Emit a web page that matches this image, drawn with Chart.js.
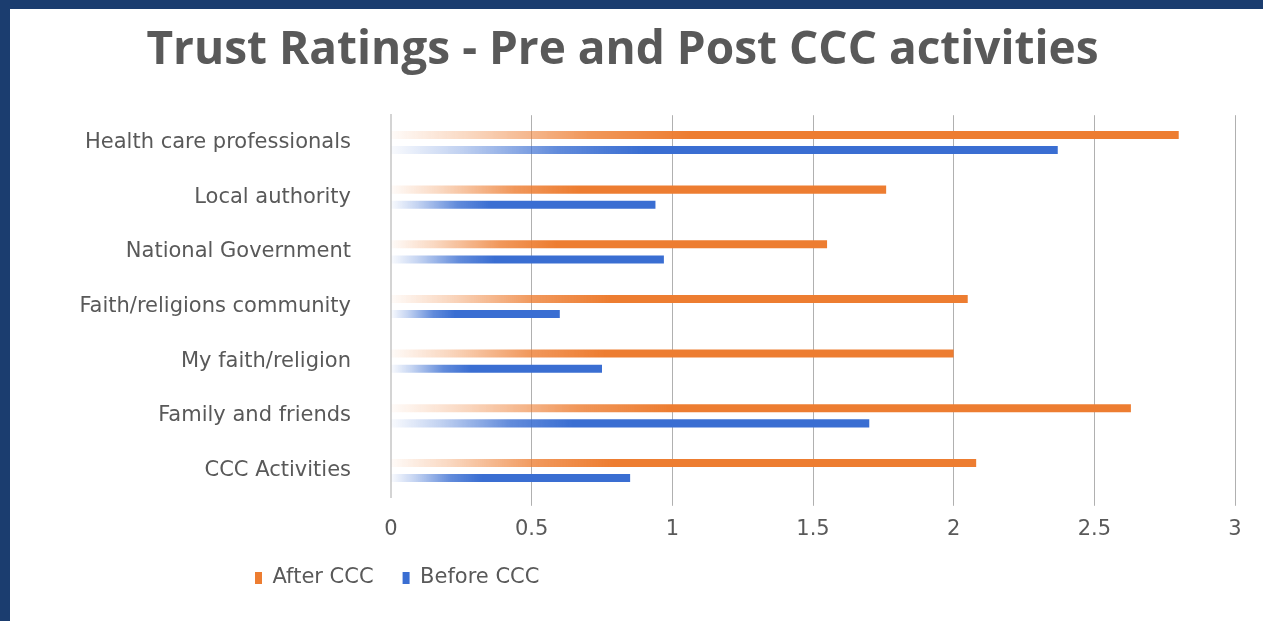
<!DOCTYPE html>
<html>
<head>
<meta charset="utf-8">
<script src="https://cdn.jsdelivr.net/npm/chart.js@4.4.1/dist/chart.umd.min.js"></script>
<style>
  html, body { margin: 0; padding: 0; background: #1b3d6f; width: 1263px; height: 621px; overflow: hidden; }
  #wrap { position: absolute; left: 10px; top: 9px; width: 1253px; height: 612px; background: #ffffff; }
  canvas { display: block; }
</style>
</head>
<body>
<div id="wrap"><canvas id="c" width="1253" height="612"></canvas></div>
<script>
const categories = [
  "Health care professionals",
  "Local authority",
  "National Government",
  "Faith/religions community",
  "My faith/religion",
  "Family and friends",
  "CCC Activities"
];
const afterCCC  = [2.80, 1.76, 1.55, 2.05, 2.00, 2.63, 2.08];
const beforeCCC = [2.37, 0.94, 0.97, 0.60, 0.75, 1.70, 0.85];
const xTicks = [0, 0.5, 1, 1.5, 2, 2.5, 3];
const seriesNames = ["After CCC", "Before CCC"];

const ORANGE = [237, 125, 49];
const BLUE = [58, 110, 210];
const rgba = (c, a) => `rgba(${c[0]},${c[1]},${c[2]},${a})`;

function barFill(base) {
  return (ctx) => {
    const chart = ctx.chart;
    if (!chart.chartArea || ctx.type !== 'data' || !chart.scales.x) return rgba(base, 1);
    const xs = chart.scales.x;
    const x0 = xs.getPixelForValue(0);
    const x1 = xs.getPixelForValue(ctx.raw);
    if (!isFinite(x0) || !isFinite(x1) || x1 <= x0) return rgba(base, 1);
    const g = chart.ctx.createLinearGradient(x0, 0, x1, 0);
    g.addColorStop(0, rgba(base, 0.03));
    g.addColorStop(0.1, rgba(base, 0.3));
    g.addColorStop(0.25, rgba(base, 0.8));
    g.addColorStop(0.38, rgba(base, 1));
    g.addColorStop(1, rgba(base, 1));
    return g;
  };
}

const LEGEND_X = 245;   // canvas px of first legend box
const LEGEND_CY = 569;  // canvas px of legend row centre
const legendShift = {
  id: 'legendShift',
  beforeDraw(chart) {
    const lg = chart.legend;
    if (!lg) return;
    const pad = lg.options.labels.padding;
    const size = lg.options.labels.font.size;
    const itemH = Math.max(size, lg.options.labels.boxHeight);
    lg.left = LEGEND_X - pad;
    lg.top = LEGEND_CY - pad - itemH / 2;
  }
};

const TEXT = '#595959';
const TITLE_FONT = "'Open Sans', 'DejaVu Sans', sans-serif";
const FONT = "'DejaVu Sans', 'Open Sans', sans-serif";

new Chart(document.getElementById('c'), {
  type: 'bar',
  data: {
    labels: categories,
    datasets: [
      { label: seriesNames[0], data: afterCCC, backgroundColor: barFill(ORANGE), solid: rgba(ORANGE,1),
        categoryPercentage: 0.553, barPercentage: 0.53 },
      { label: seriesNames[1], data: beforeCCC, backgroundColor: barFill(BLUE), solid: rgba(BLUE,1),
        categoryPercentage: 0.553, barPercentage: 0.53 }
    ]
  },
  options: {
    indexAxis: 'y',
    responsive: false,
    animation: false,
    devicePixelRatio: 1,
    layout: { padding: { left: 0, right: 28, top: 0, bottom: 8 } },
    plugins: {
      title: {
        display: true,
        text: 'Trust Ratings - Pre and Post CCC activities',
        color: TEXT,
        font: { family: TITLE_FONT, size: 46, weight: 'bold' },
        padding: { top: 14, bottom: 37 }
      },
      legend: {
        display: true,
        position: 'bottom',
        align: 'start',
        labels: {
          color: TEXT,
          font: { family: FONT, size: 21 },
          boxWidth: 7,
          boxHeight: 12,
          padding: 29,
          generateLabels(chart) {
            const items = Chart.defaults.plugins.legend.labels.generateLabels(chart);
            items.forEach((it, i) => {
              it.fillStyle = chart.data.datasets[i].solid;
              it.strokeStyle = 'rgba(0,0,0,0)';
              it.lineWidth = 0;
            });
            return items;
          }
        }
      },
      tooltip: { enabled: false }
    },
    scales: {
      x: {
        min: 0, max: 3,
        afterBuildTicks(scale) { scale.ticks = xTicks.map(v => ({ value: v })); },
        ticks: {
          color: TEXT,
          font: { family: FONT, size: 21 },
          padding: 11,
          callback: (v) => String(v)
        },
        grid: {
          color: (c) => (c.tick && c.tick.value === 0) ? 'rgba(0,0,0,0)' : '#b0b0b0',
          lineWidth: 1,
          tickLength: 8,
          drawTicks: true
        },
        border: { display: false }
      },
      y: {
        afterFit(scale) { scale.width = 381; },
        ticks: {
          color: TEXT,
          font: { family: FONT, size: 21 },
          padding: 40
        },
        grid: { display: false, drawTicks: false },
        border: { display: true, color: '#d4d4d4', width: 2 }
      }
    }
  },
  plugins: [legendShift]
});
</script>
</body>
</html>
